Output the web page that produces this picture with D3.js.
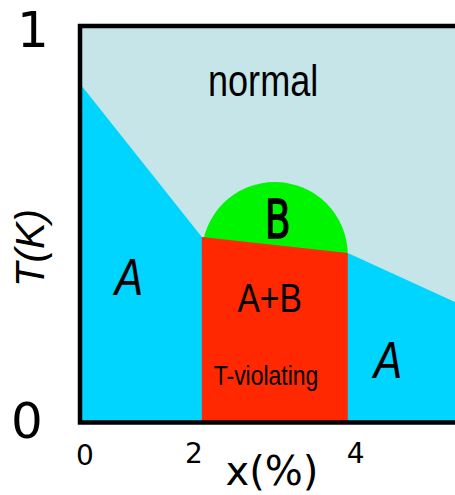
<!DOCTYPE html>
<html>
<head>
<meta charset="utf-8">
<script src="https://cdn.jsdelivr.net/npm/d3@7"></script>
<style>
  html, body { margin: 0; padding: 0; background: #fff; }
  svg { display: block; }
</style>
</head>
<body>
<script>
// Doping x (%) shown across the plot, and normalised temperature T
const xDomain = [0.33, 5.47];
const tDomain = [0, 1];

// Upper edge of phase A on the left (normal / A boundary), x and T
const leftBoundaryX = [0.33, 2];
const leftBoundaryT = [0.854, 0.467];

// Top edge of the mixed A+B region (B / A+B boundary)
const mixedTopX = [2, 4];
const mixedTopT = [0.467, 0.427];

// Upper edge of phase A on the right
const rightBoundaryX = [4, 5.47];
const rightBoundaryT = [0.427, 0.303];

// Dome of phase B: centre (x, T) and half-width / height
const domeCenter = [3, 0.422];
const domeRadii = [1, 0.184];

// Axis tick labels
const xTickValues = [0, 2, 4];
const tTickValues = [0, 1];

const W = 455, H = 495;
const svg = d3.select("body").append("svg").attr("width", W).attr("height", H);

const x = d3.scaleLinear().domain(xDomain).range([80, 455]);
const y = d3.scaleLinear().domain(tDomain).range([422, 26]);

const colNormal = "#c6e5e9", colA = "#00d5ff", colMixed = "#ff2800", colB = "#00f500";

const line = d3.line().x(d => x(d[0])).y(d => y(d[1]));

// normal phase fills the whole plot
svg.append("rect")
  .attr("x", x(xDomain[0])).attr("y", y(tDomain[1]))
  .attr("width", x(xDomain[1]) - x(xDomain[0]))
  .attr("height", y(tDomain[0]) - y(tDomain[1]))
  .attr("fill", colNormal);

// phase A below the boundaries
const aPts = [[xDomain[0], 0]]
  .concat(leftBoundaryX.map((v, i) => [v, leftBoundaryT[i]]))
  .concat(mixedTopX.map((v, i) => [v, mixedTopT[i]]))
  .concat(rightBoundaryX.map((v, i) => [v, rightBoundaryT[i]]))
  .concat([[xDomain[1], 0]]);
svg.append("path").attr("d", line(aPts) + "Z").attr("fill", colA);

// phase B dome
svg.append("ellipse")
  .attr("cx", x(domeCenter[0])).attr("cy", y(domeCenter[1]))
  .attr("rx", x(domeCenter[0] + domeRadii[0]) - x(domeCenter[0]))
  .attr("ry", y(domeCenter[1]) - y(domeCenter[1] + domeRadii[1]))
  .attr("fill", colB);

// mixed A+B (T-violating) region
const mPts = [[mixedTopX[0], 0]]
  .concat(mixedTopX.map((v, i) => [v, mixedTopT[i]]))
  .concat([[mixedTopX[1], 0]]);
svg.append("path").attr("d", line(mPts) + "Z").attr("fill", colMixed);

// frame: top, left and bottom edges
svg.append("path")
  .attr("d", `M${W},${y(1)} H${x(xDomain[0])} V${y(0) + 0.5} H${W}`)
  .attr("fill", "none").attr("stroke", "#000").attr("stroke-width", 4.5);

const sans = "'Liberation Sans', Arial, sans-serif";
const hand = "'DejaVu Sans', sans-serif";

// text placed at (px, py), optionally squeezed horizontally
function label(text, px, py, size, family, opts = {}) {
  const t = svg.append("text")
    .attr("transform", `translate(${px},${py}) scale(${opts.squeeze || 1},1)`)
    .attr("text-anchor", opts.anchor || "middle")
    .attr("font-family", family)
    .attr("font-size", size)
    .attr("font-style", opts.italic ? "italic" : "normal")
    .attr("fill", "#000")
    .text(text);
  if (opts.stroke) t.attr("stroke", "#000").attr("stroke-width", opts.stroke);
  return t;
}

// region names
label("normal", x(2.84), y(0.823), 44, sans, { squeeze: 0.82 });
label("B", x(3.04), y(0.465), 54, hand, { squeeze: 0.7, stroke: 1.3 });
label("A", x(1.0), y(0.321), 52, sans, { italic: true, squeeze: 0.82 });
label("A+B", x(2.93), y(0.278), 41, sans, { squeeze: 0.82 });
label("T-violating", x(2.88), y(0.093), 28, sans, { squeeze: 0.82 });
label("A", x(4.55), y(0.111), 52, sans, { italic: true, squeeze: 0.82 });

// T axis ticks
tTickValues.forEach(v => {
  if (v === 1) label(String(v), 33, y(v) + 21, 50, hand);
  else label(String(v), 27, y(v) + 16, 50, hand);
});

// x axis ticks
xTickValues.forEach(v => {
  if (v === xTickValues[0]) label(String(v), x(xDomain[0]) + 5, 465, 28, hand);
  else if (v === 2) label(String(v), x(v) + 1, 463, 28, hand, { anchor: "end" });
  else label(String(v), x(v) - 1, 463, 28, hand, { anchor: "start" });
});

// axis titles
label("x(%)", 272, 485, 40, hand);
svg.append("text")
  .attr("transform", "translate(44,248) rotate(-90)")
  .attr("text-anchor", "middle")
  .attr("font-family", sans)
  .attr("font-style", "italic")
  .attr("font-size", 40)
  .text("T(K)");
</script>
</body>
</html>
